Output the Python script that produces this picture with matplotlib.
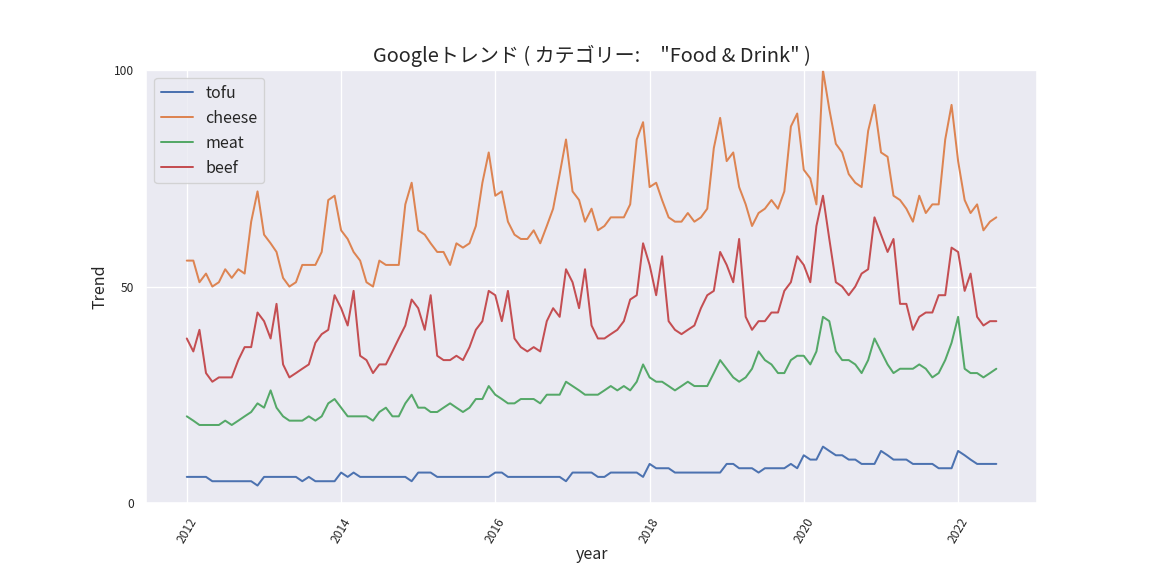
import pandas as pd
import matplotlib
matplotlib.use("Agg")
import matplotlib.pyplot as plt
import matplotlib.dates as mdates
import seaborn as sns

# monthly values, 2012-01 .. 2022-07
months = pd.date_range("2012-01-01", periods=127, freq="MS")

tofu = [6,6,6,6,5,5,5,5,5,5,5,4,
        6,6,6,6,6,6,5,6,5,5,5,5,
        7,6,7,6,6,6,6,6,6,6,6,5,
        7,7,7,6,6,6,6,6,6,6,6,6,
        7,7,6,6,6,6,6,6,6,6,6,5,
        7,7,7,7,6,6,7,7,7,7,7,6,
        9,8,8,8,7,7,7,7,7,7,7,7,
        9,9,8,8,8,7,8,8,8,8,9,8,
        11,10,10,13,12,11,11,10,10,9,9,9,
        12,11,10,10,10,9,9,9,9,8,8,8,
        12,11,10,9,9,9,9]

cheese = [56,56,51,53,50,51,54,52,54,53,65,72,
          62,60,58,52,50,51,55,55,55,58,70,71,
          63,61,58,56,51,50,56,55,55,55,69,74,
          63,62,60,58,58,55,60,59,60,64,74,81,
          71,72,65,62,61,61,63,60,64,68,76,84,
          72,70,65,68,63,64,66,66,66,69,84,88,
          73,74,70,66,65,65,67,65,66,68,82,89,
          79,81,73,69,64,67,68,70,68,72,87,90,
          77,75,69,100,91,83,81,76,74,73,86,92,
          81,80,71,70,68,65,71,67,69,69,84,92,
          79,70,67,69,63,65,66]

meat = [20,19,18,18,18,18,19,18,19,20,21,23,
        22,26,22,20,19,19,19,20,19,20,23,24,
        22,20,20,20,20,19,21,22,20,20,23,25,
        22,22,21,21,22,23,22,21,22,24,24,27,
        25,24,23,23,24,24,24,23,25,25,25,28,
        27,26,25,25,25,26,27,26,27,26,28,32,
        29,28,28,27,26,27,28,27,27,27,30,33,
        31,29,28,29,31,35,33,32,30,30,33,34,
        34,32,35,43,42,35,33,33,32,30,33,38,
        35,32,30,31,31,31,32,31,29,30,33,37,
        43,31,30,30,29,30,31]

beef = [38,35,40,30,28,29,29,29,33,36,36,44,
        42,38,46,32,29,30,31,32,37,39,40,48,
        45,41,49,34,33,30,32,32,35,38,41,47,
        45,40,48,34,33,33,34,33,36,40,42,49,
        48,42,49,38,36,35,36,35,42,45,43,54,
        51,45,54,41,38,38,39,40,42,47,48,60,
        55,48,57,42,40,39,40,41,45,48,49,58,
        55,51,61,43,40,42,42,44,44,49,51,57,
        55,51,64,71,61,51,50,48,50,53,54,66,
        62,58,61,46,46,40,43,44,44,48,48,59,
        58,49,53,43,41,42,42]

df = pd.DataFrame({"tofu": tofu, "cheese": cheese, "meat": meat, "beef": beef}, index=months)

sns.set_theme(style="darkgrid")
plt.rcParams["font.family"] = ["Noto Sans CJK JP", "DejaVu Sans"]

fig, ax = plt.subplots(figsize=(12, 6), dpi=96)
fig.subplots_adjust(left=0.127, right=0.9, top=0.878, bottom=0.127)

for col in df.columns:
    ax.plot(df.index, df[col], label=col, linewidth=1.5)

ax.set_title('Googleトレンド ( カテゴリー:　"Food & Drink" )', fontsize=15)
ax.set_xlabel("year", fontsize=12, labelpad=0.5)
ax.set_ylabel("Trend", fontsize=12)
ax.set_ylim(0, 100)
ax.set_yticks([0, 50, 100])
ax.xaxis.set_major_locator(mdates.YearLocator(2))
ax.xaxis.set_major_formatter(mdates.DateFormatter("%Y"))
ax.tick_params(axis="both", labelsize=9)
plt.setp(ax.get_xticklabels(), rotation=60)
ax.legend(loc="upper left", fontsize=12)

plt.savefig("out.png", dpi=96)
